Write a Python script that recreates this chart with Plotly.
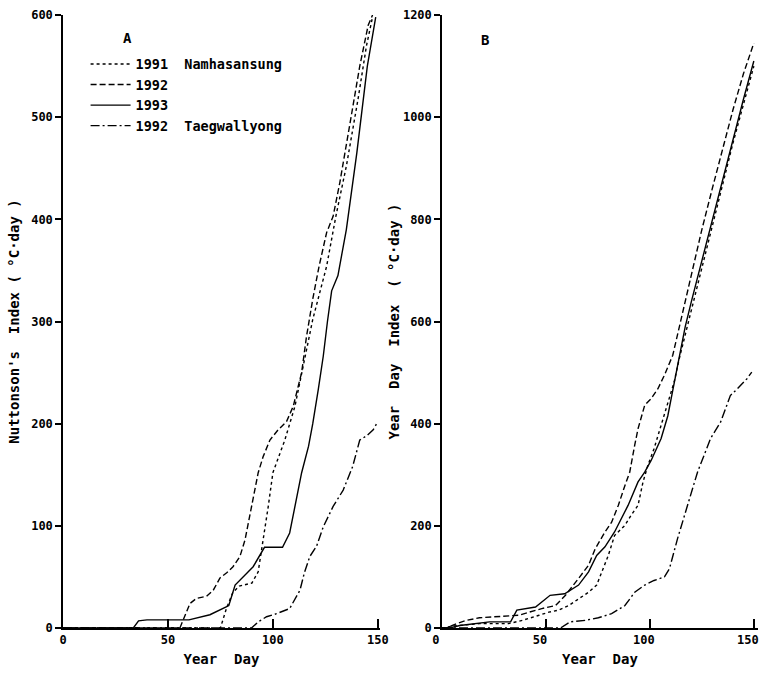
"""
Cumulative thermal index curves, two panels (A: Nuttonson's index, B: year day index).
"""

import plotly.graph_objects as go

# ---- Panel A: Nuttonson's index ----
a_1991_day = [0, 75, 78, 81, 84, 90, 93, 95.4, 97.8, 100, 103, 105.7, 110.5, 113.7,
              116.8, 119, 125.6, 130, 135, 140.6, 144.6, 147.5]
a_1991_val = [0, 0, 20, 35, 41, 44, 55, 85, 119, 152, 170, 184, 217, 250,
              282, 302, 354, 403, 452, 518, 570, 598]

a_1992_day = [0, 55.7, 60.5, 63.6, 68.4, 71.6, 74.8, 78, 81, 84.3, 86.7, 89.8, 93, 95.4,
              98.6, 102.5, 106.5, 109.7, 113.7, 116, 119, 122, 125.6, 128.7, 131.9, 136,
              138, 141.4, 145.4, 147.5]
a_1992_val = [0, 0, 24, 29, 31, 37, 49, 54, 60, 70, 86, 119, 152, 168,
              184, 194, 202, 217, 250, 285, 322, 354, 387, 403, 436, 485,
              508, 550, 590, 600]

a_1993_day = [0, 33.5, 36, 40, 60, 67, 70, 78, 79, 82, 90.6, 96, 99, 104.6, 108, 110.5,
              113.7, 117, 119, 121.6, 124, 126, 128, 131, 135, 140, 145, 149]
a_1993_val = [0, 0, 7, 8, 8, 11, 13, 21, 22, 42, 60, 79, 79, 79, 93, 119,
              152, 178, 200, 233, 266, 300, 330, 345, 390, 465, 550, 598]

a_taeg_day = [0, 89.8, 93, 97, 101.7, 108, 112.9, 115, 117.6, 120.8, 124, 128.7, 133.5,
              138, 141.4, 144.6, 147.8, 150]
a_taeg_val = [0, 0, 6, 11, 14, 19, 37, 54, 70, 80, 99, 119, 135,
              158, 184, 188, 194, 202]

# ---- Panel B: year day index ----
b_1991_day = [0, 0.6, 5.4, 18, 32, 38.7, 46.7, 51.4, 56, 61, 65.7, 70.5, 74.4, 76.8, 80,
              83, 88, 91, 94.3, 96.7, 99, 102, 105.4, 108.6, 111.7, 114, 116.5, 120,
              125, 130, 135, 140, 145, 150]
b_1991_val = [0, 0, 4, 8.5, 8.5, 15, 25, 31, 35, 44, 57, 70, 84, 110, 142,
              181, 201, 221, 240, 286, 318, 351, 397, 436, 482, 525, 566, 625,
              710, 790, 870, 950, 1025, 1100]

b_1992_day = [0, 2.2, 7, 11.7, 18, 27.6, 37, 42, 48, 54.6, 59.4, 65.7, 70.5, 73.7, 78.4,
              81.6, 84.8, 88, 90.3, 92.7, 94.3, 97.5, 100.6, 103.8, 107, 111, 113.3, 117,
              120, 125, 130, 135, 140, 145, 150]
b_1992_val = [0, 0, 8.5, 15, 20, 23, 25, 31, 38, 44, 64, 97, 123, 155, 188,
              207, 240, 279, 305, 358, 390, 436, 449, 468, 495, 534, 575, 640,
              695, 780, 860, 940, 1015, 1085, 1145]

b_1993_day = [0, 3.8, 8.6, 15, 22.9, 33, 36, 45, 52, 59, 65.7, 70.5, 74.4, 78.4, 83,
              89.5, 94.3, 97.5, 100.6, 105.4, 108.6, 111, 114, 117, 120, 125, 130, 135,
              140, 145, 150]
b_1993_val = [0, 0, 5, 8.5, 12, 12, 35, 41, 64, 67, 84, 110, 142, 159, 188,
              240, 286, 305, 328, 371, 415, 465, 530, 590, 640, 720, 800, 880,
              960, 1035, 1110]

b_taeg_day = [0, 57, 61.7, 68.9, 75.2, 81.6, 88, 92.7, 97.5, 102, 107, 109.4, 113.3, 118,
              122.9, 129.2, 134, 137, 138.7, 142, 146.7, 149]
b_taeg_val = [0, 0, 12, 15, 20, 28, 44, 70, 84, 93, 100, 116, 175, 240,
              305, 371, 403, 436, 455, 468, 488, 501]

series_names = ['1991  Namhasansung', '1992', '1993', '1992  Taegwallyong']
dashes = ['dot', '6px,3px', 'solid', '9px,3px,2px,3px']

TICK_FONT = dict(family='DejaVu Sans Mono', size=12, color='black', weight='bold')
TITLE_FONT = dict(family='DejaVu Sans Mono', size=14, color='black', weight='bold')
LEGEND_FONT = dict(family='DejaVu Sans Mono', size=13.5, color='black', weight='bold')

fig = go.Figure()

panel_a = [(a_1991_day, a_1991_val), (a_1992_day, a_1992_val),
           (a_1993_day, a_1993_val), (a_taeg_day, a_taeg_val)]
panel_b = [(b_1991_day, b_1991_val), (b_1992_day, b_1992_val),
           (b_1993_day, b_1993_val), (b_taeg_day, b_taeg_val)]

for (x, y), name, dash in zip(panel_a, series_names, dashes):
    fig.add_trace(go.Scatter(
        x=x, y=y, mode='lines', name=name,
        line=dict(color='black', width=1.4, dash=dash),
        xaxis='x', yaxis='y'
    ))

for (x, y), name, dash in zip(panel_b, series_names, dashes):
    fig.add_trace(go.Scatter(
        x=x, y=y, mode='lines', name=name, showlegend=False,
        line=dict(color='black', width=1.4, dash=dash),
        xaxis='x2', yaxis='y2'
    ))

xaxis_style = dict(
    tickvals=[0, 50, 100, 150], showgrid=False, zeroline=False, automargin=False,
    showline=True, linecolor='black', linewidth=1.5,
    ticks='inside', ticklen=9, tickcolor='black', tickwidth=1.5,
    tickfont=TICK_FONT, title=dict(text='Year  Day', font=TITLE_FONT, standoff=8)
)
yaxis_style = dict(
    showgrid=False, zeroline=False, showline=True, linecolor='black', linewidth=1.5,
    automargin=False,
    ticks='outside', ticklen=6, tickcolor='black', tickwidth=1.5, tickfont=TICK_FONT
)

fig.update_layout(
    width=759, height=678,
    margin=dict(l=63, r=1, t=15, b=50),
    paper_bgcolor='white', plot_bgcolor='white',
    font=TICK_FONT,
    xaxis=dict(domain=[0, 0.456], range=[0, 151], **xaxis_style),
    xaxis2=dict(domain=[0.5453, 1.0], range=[0, 152], anchor='y2', ticklabelshift=-6,
                ticklabeloverflow='allow', **xaxis_style),
    yaxis=dict(range=[0, 600], tickvals=[0, 100, 200, 300, 400, 500, 600],
               title=dict(text="Nuttonson's  Index ( °C·day )", font=TITLE_FONT, standoff=8),
               **yaxis_style),
    yaxis2=dict(range=[0, 1200], tickvals=[0, 200, 400, 600, 800, 1000, 1200],
                anchor='x2',
                title=dict(text='Year  Day  Index  ( °C·day )', font=TITLE_FONT, standoff=0),
                **yaxis_style),
    legend=dict(
        x=0.0325, y=0.945, xanchor='left', yanchor='top',
        bgcolor='rgba(0,0,0,0)', font=LEGEND_FONT, itemwidth=40, tracegroupgap=0
    ),
    annotations=[
        dict(text='A', xref='x domain', yref='y domain', x=0.205, y=0.962,
             xanchor='center', yanchor='middle', showarrow=False, font=TITLE_FONT),
        dict(text='B', xref='x2 domain', yref='y2 domain', x=0.136, y=0.959,
             xanchor='center', yanchor='middle', showarrow=False, font=TITLE_FONT),
    ]
)

# drop the default page margin so the figure sits at the window's corner
fig.write_html("out.html", config={'displayModeBar': False},
               post_script="document.body.style.margin='0px';")
